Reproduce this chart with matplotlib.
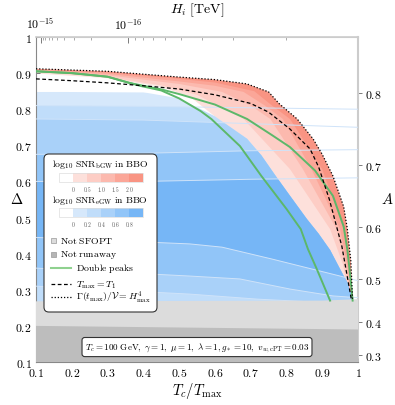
import numpy as np
import matplotlib
matplotlib.use('Agg')
import matplotlib.pyplot as plt
from matplotlib.patches import Rectangle, FancyBboxPatch, Polygon
from matplotlib.lines import Line2D
from matplotlib.ticker import FixedLocator

plt.rcParams['mathtext.fontset'] = 'cm'
plt.rcParams['font.family'] = ['DejaVu Serif']

# ---- curves (x = Tc/Tmax, y = Delta) ----
dotted_x = [0.1, 0.3, 0.5, 0.6, 0.69, 0.75, 0.78, 0.83, 0.875, 0.9, 0.93, 0.96, 0.97, 0.98, 0.985]
dotted_y = [0.912, 0.905, 0.889, 0.882, 0.870, 0.848, 0.815, 0.773, 0.717, 0.675, 0.615, 0.530, 0.470, 0.380, 0.27]

dashed_x = [0.1, 0.2, 0.3, 0.4, 0.5, 0.6, 0.7, 0.75, 0.81, 0.866, 0.89, 0.92, 0.955, 0.982]
dashed_y = [0.884, 0.879, 0.873, 0.865, 0.856, 0.840, 0.816, 0.792, 0.745, 0.690, 0.640, 0.550, 0.420, 0.27]

green_out_x = [0.1, 0.2, 0.3, 0.36, 0.45, 0.5, 0.6, 0.69, 0.76, 0.81, 0.88, 0.93, 0.96, 0.97, 0.977, 0.985]
green_out_y = [0.905, 0.900, 0.890, 0.873, 0.855, 0.842, 0.813, 0.773, 0.728, 0.695, 0.630, 0.560, 0.475, 0.413, 0.35, 0.27]

green_in_x = [0.1, 0.2, 0.3, 0.39, 0.45, 0.5, 0.56, 0.59, 0.67, 0.73, 0.8, 0.84, 0.86, 0.885, 0.922]
green_in_y = [0.905, 0.900, 0.890, 0.865, 0.852, 0.830, 0.795, 0.773, 0.698, 0.615, 0.524, 0.468, 0.413, 0.357, 0.27]

# edge of the eGW (blue) region
blue_edge_x = [0.1, 0.4, 0.5, 0.6, 0.69, 0.73, 0.77, 0.81, 0.857, 0.89, 0.922, 0.95, 0.97, 0.986]
blue_edge_y = [0.848, 0.847, 0.830, 0.780, 0.718, 0.672, 0.615, 0.560, 0.496, 0.455, 0.410, 0.357, 0.320, 0.27]

# bGW (pink) contour boundaries, outermost first
pink_bounds = [
    (dotted_x, dotted_y),
    ([0.1, 0.3, 0.5, 0.6, 0.71, 0.76, 0.81, 0.9, 0.96, 0.975, 0.984],
     [0.910, 0.902, 0.884, 0.874, 0.850, 0.810, 0.773, 0.634, 0.468, 0.37, 0.27]),
    ([0.1, 0.3, 0.5, 0.6, 0.68, 0.74, 0.79, 0.87, 0.95, 0.972, 0.982],
     [0.908, 0.898, 0.877, 0.865, 0.848, 0.810, 0.773, 0.634, 0.468, 0.36, 0.27]),
    ([0.1, 0.3, 0.5, 0.62, 0.7, 0.755, 0.846, 0.94, 0.965, 0.98],
     [0.906, 0.894, 0.870, 0.848, 0.810, 0.773, 0.634, 0.468, 0.37, 0.27]),
    ([0.1, 0.3, 0.45, 0.55, 0.68, 0.81, 0.922, 0.958, 0.976],
     [0.903, 0.889, 0.866, 0.840, 0.773, 0.634, 0.468, 0.37, 0.27]),
]
pink_low_x = [0.1, 0.3, 0.45, 0.53, 0.6]
pink_low_y = [0.899, 0.886, 0.862, 0.835, 0.780]

# eGW (blue) contour lines
egw_x = [0.1, 0.4, 0.7, 1.0]
egw_upper = [
    [0.848, 0.847, 0.842, 0.835],
    [0.810, 0.808, 0.804, 0.800],
    [0.773, 0.770, 0.760, 0.750],
    [0.675, 0.678, 0.685, 0.688],
    [0.600, 0.600, 0.606, 0.610],
]
egw_lower = [
    ([0.1, 0.53, 0.62, 0.76, 0.95, 1.0], [0.445, 0.427, 0.418, 0.385, 0.338, 0.325]),
    ([0.1, 0.53, 0.67, 0.81, 0.93, 1.0], [0.360, 0.338, 0.330, 0.302, 0.283, 0.278]),
    ([0.1, 0.53, 0.72, 0.9, 1.0], [0.310, 0.288, 0.274, 0.265, 0.262]),
]

sfopt_x = [0.1, 0.9, 1.0]
sfopt_y = [0.268, 0.270, 0.274]
runaway_x = [0.1, 1.0]
runaway_y = [0.200, 0.190]

pink_cols = ['#fde0db', '#fdcdc5', '#fcb9ae', '#fba698', '#f99483']
blue_cols = ['#d6e8fb', '#c0ddfa', '#a9d1f9', '#91c5f8', '#76b6f6']
green = '#5cb86a'

BOT = 0.1

def below(xs, ys):
    return list(zip(xs, ys)) + [(xs[-1], BOT), (xs[0], BOT)]

fig = plt.figure(figsize=(3.95, 4.06), dpi=100)
ax = fig.add_axes([36 / 395, 1 - 363 / 406, 322 / 395, 325 / 406])
ax.set_xlim(0.1, 1.0)
ax.set_ylim(0.1, 1.0)

# pink layers, darkest (outer) first
for (xs, ys), c in zip(pink_bounds, pink_cols[::-1]):
    ax.add_patch(Polygon(below(xs, ys), closed=True, fc=c, ec='none', zorder=1))
ax.add_patch(Polygon(below(pink_low_x, pink_low_y), closed=True, fc='white', ec='none', zorder=1))

# blue layers clipped to the eGW region
clip = Polygon(below(blue_edge_x, blue_edge_y), closed=True, transform=ax.transData)
layers = [(egw_x, ys) for ys in egw_upper] + egw_lower
layer_cols = blue_cols + [blue_cols[3], blue_cols[2], blue_cols[1]]
for (xs, ys), c in zip(layers, layer_cols):
    p = Polygon(below(xs, ys), closed=True, fc=c, ec='none', zorder=2)
    ax.add_patch(p)
    p.set_clip_path(clip)

for xs, ys in layers[1:]:
    ax.plot(xs, ys, color='#cfe3f9', lw=0.7, zorder=3)

# grey regions
ax.add_patch(Polygon(below(sfopt_x, sfopt_y), closed=True, fc='#dcdcdc', ec='none', zorder=4))
ax.add_patch(Polygon(below(runaway_x, runaway_y), closed=True, fc='#bdbdbd', ec='none', zorder=4))

ax.plot(green_in_x, green_in_y, color=green, lw=1.4, zorder=5)
ax.plot(green_out_x, green_out_y, color=green, lw=1.4, zorder=5)
ax.plot(dashed_x, dashed_y, color='black', lw=0.9, ls=(0, (3, 2)), zorder=6)
ax.plot(dotted_x, dotted_y, color='black', lw=0.9, ls=(0, (1, 1.5)), zorder=6)

# axes cosmetics
ticks = [0.1, 0.2, 0.3, 0.4, 0.5, 0.6, 0.7, 0.8, 0.9, 1.0]
tlabels = [r'$%s$' % ('1' if t == 1.0 else '%.1f' % t) for t in ticks]
ax.set_xticks(ticks, labels=tlabels)
ax.set_yticks(ticks, labels=tlabels)
ax.tick_params(direction='in', length=3, width=0.6, color='#666666', labelsize=8.5,
               top=False, right=False, pad=3)
for s in ['left', 'bottom']:
    ax.spines[s].set_color('#888888')
    ax.spines[s].set_linewidth(0.8)
for s in ['top', 'right']:
    ax.spines[s].set_color('#cccccc')
    ax.spines[s].set_linewidth(1.2)

Hc = 1.275e-17
top = ax.secondary_xaxis('top', functions=(lambda x: Hc / np.maximum(x, 1e-3) ** 2,
                                           lambda h: np.sqrt(Hc / np.maximum(h, 1e-40))))
top.set_xticks([1e-15, 1e-16], labels=[r'$10^{-15}$', r'$10^{-16}$'])
top.xaxis.set_minor_locator(FixedLocator([k * 1e-16 for k in range(2, 10)] +
                                         [k * 1e-17 for k in range(2, 10)]))
top.tick_params(which='major', direction='in', length=4, width=0.6, color='#666666', labelsize=8.5, pad=4)
top.tick_params(which='minor', direction='in', length=2, width=0.5, color='#888888')
top.spines['top'].set_color('#cccccc')

right = ax.secondary_yaxis('right', functions=(lambda d: np.sqrt(np.maximum(d, 0) / 1.32),
                                               lambda a: 1.32 * a ** 2))
aticks = [0.3, 0.4, 0.5, 0.6, 0.7, 0.8]
right.set_yticks(aticks, labels=[r'$%.1f$' % a for a in aticks])
right.tick_params(direction='out', length=3, width=0.6, color='#666666', labelsize=8.5, pad=2)
right.spines['right'].set_color('#cccccc')
right.spines['right'].set_linewidth(1.5)

# axis titles placed at their pixel spots
def figpt(px, py):
    return (px / 395, 1 - py / 406)

fig.text(*figpt(197, 391), r'$T_c/T_{\max}$', fontsize=10.5, ha='center', va='center')
fig.text(*figpt(17, 200), r'$\Delta$', fontsize=10.5, ha='center', va='center')
fig.text(*figpt(387, 200), r'$A$', fontsize=10.5, ha='center', va='center')
fig.text(*figpt(197, 10), r'$H_i\ [\mathrm{TeV}]$', fontsize=10, ha='center', va='center')

# ---- legend box (positions in pixels of the figure) ----
def axf(px, py):
    return ((px - 36) / 322, (363 - py) / 325)

x0, y0 = axf(44, 313)
x1, y1 = axf(157, 155)
ax.add_patch(FancyBboxPatch((x0, y0), x1 - x0, y1 - y0, boxstyle='round,pad=0,rounding_size=0.015',
                            transform=ax.transAxes, fc='white', ec='#333333', lw=0.8, zorder=10))

def colorbar(py_top, cols, labels, title, py_title, py_lab):
    bx = [59, 73, 87, 101, 115, 129, 143]
    allc = ['white'] + cols
    for i, c in enumerate(allc):
        xa, ya = axf(bx[i], py_top + 9)
        xb, yb = axf(bx[i + 1], py_top)
        ax.add_patch(Rectangle((xa, ya), xb - xa, yb - ya, transform=ax.transAxes,
                               fc=c, ec='none', zorder=11))
    xa, ya = axf(59, py_top + 9)
    xb, yb = axf(143, py_top)
    ax.add_patch(Rectangle((xa, ya), xb - xa, yb - ya, transform=ax.transAxes,
                           fc='none', ec='#dddddd', lw=0.5, zorder=12))
    for i, lab in enumerate(labels):
        tx, ty = axf(bx[i + 1], py_lab)
        ax.text(tx, ty, lab, transform=ax.transAxes, ha='center', va='center',
                fontsize=4, color='#555555', zorder=12)
    tx, ty = axf(100, py_title)
    ax.text(tx, ty, title, transform=ax.transAxes, ha='center', va='center', fontsize=7, zorder=12)

colorbar(174, pink_cols, [r'$0$', r'$0.5$', r'$1.0$', r'$1.5$', r'$2.0$'],
         r'$\log_{10}\,\mathrm{SNR}_{\mathrm{bGW}}\ \mathrm{in\ BBO}$', 165, 190)
colorbar(209, blue_cols, [r'$0$', r'$0.2$', r'$0.4$', r'$0.6$', r'$0.8$'],
         r'$\log_{10}\,\mathrm{SNR}_{\mathrm{eGW}}\ \mathrm{in\ BBO}$', 201, 225)

for py, fc, lab in [(241, '#dcdcdc', r'$\mathrm{Not\ SFOPT}$'), (255, '#b5b5b5', r'$\mathrm{Not\ runaway}$')]:
    xa, ya = axf(51, py + 2.5)
    xb, yb = axf(56, py - 2.5)
    ax.add_patch(Rectangle((xa, ya), xb - xa, yb - ya, transform=ax.transAxes,
                           fc=fc, ec='#999999', lw=0.5, zorder=11))
    tx, ty = axf(60, py)
    ax.text(tx, ty, lab, transform=ax.transAxes, ha='left', va='center', fontsize=7, zorder=12)

for py, kw, lab in [(269, dict(color='#8fd18f', lw=1.5), r'$\mathrm{Double\ peaks}$'),
                    (285, dict(color='black', lw=0.9, ls=(0, (3, 2))), r'$T_{\max} = T_1$'),
                    (298, dict(color='black', lw=0.9, ls=(0, (1, 1.5))), r'$\Gamma(t_{\max})/\mathcal{V} = H_{\max}^4$')]:
    xa, ya = axf(51, py)
    xb, _ = axf(71, py)
    ax.add_line(Line2D([xa, xb], [ya, ya], transform=ax.transAxes, zorder=12, **kw))
    tx, ty = axf(76, py)
    ax.text(tx, ty, lab, transform=ax.transAxes, ha='left', va='center', fontsize=7, zorder=12)

ax.text(0.5, 0.046, r'$T_c = 100\ \mathrm{GeV},\ \gamma = 1,\ \mu = 1,\ \lambda = 1, g_* = 10,\ v_{w,\mathrm{cPT}} = 0.03$',
        transform=ax.transAxes, ha='center', va='center', fontsize=6.5, zorder=12,
        bbox=dict(boxstyle='round,pad=0.3', fc='white', ec='#333333', lw=0.8))

fig.savefig('out.png', dpi=100)
